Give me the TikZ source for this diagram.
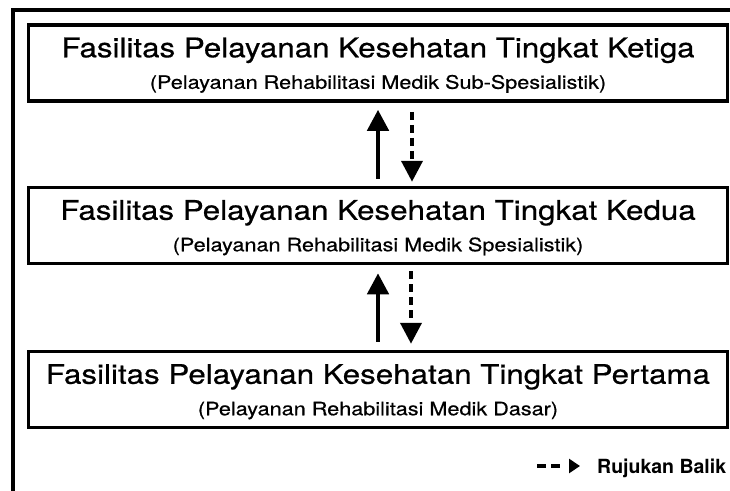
\documentclass[tikz,border=0pt]{standalone}
\usepackage{fontspec}
\setmainfont{TeX Gyre Heros}
\newfontfamily\medfont[FakeBold=0.5]{TeX Gyre Heros}
\usepackage{graphicx}
\usetikzlibrary{arrows.meta}
\newcommand{\widetitle}[1]{\scalebox{1.16}[1]{#1}}
\newcommand{\widesub}[1]{\scalebox{1.17}[1]{#1}}

\begin{document}
\begin{tikzpicture}[
		x=1pt,y=-1pt,
		level/.style = {draw, line width=3.5pt, minimum width=699pt, minimum height=76pt, inner sep=0pt},
		title/.style = {anchor=base, inner sep=0pt, font=\medfont\fontsize{27}{30}\selectfont},
		sub/.style = {anchor=base, inner sep=0pt, font=\medfont\fontsize{18.5}{21}\selectfont},
		up/.style = {line width=4.5pt, -{Triangle[length=21pt,width=21pt]}},
		back/.style = {line width=4pt, dash pattern=on 8pt off 5pt, -{Triangle[length=21pt,width=21pt]}},
		legend/.style = {line width=4pt, dash pattern=on 9pt off 5pt on 9pt off 20pt, -{Triangle[length=11pt,width=14pt]}}
	]
	\useasboundingbox (0,0) rectangle (730,490);
	\clip (0,0) rectangle (730,490);
	\draw [line width=3.5pt] (13,495) -- (13,10) -- (735,10);

	\node (tiga) [level] at (378,63) {};
	\node (dua) [level] at (378,225.5) {};
	\node (pertama) [level] at (378,389.5) {};

	\node (tigaT) [title] at ([yshift=-34pt]tiga.north) {\widetitle{Fasilitas Pelayanan Kesehatan Tingkat Ketiga}};
	\node (tigaS) [sub] at ([yshift=14pt]tiga.south) {\widesub{(Pelayanan Rehabilitasi Medik Sub-Spesialistik)}};
	\node (duaT) [title] at ([yshift=-34pt]dua.north) {\widetitle{Fasilitas Pelayanan Kesehatan Tingkat Kedua}};
	\node (duaS) [sub] at ([yshift=14pt]dua.south) {\widesub{(Pelayanan Rehabilitasi Medik Spesialistik)}};
	\node (pertamaT) [title] at ([yshift=-34pt]pertama.north) {\widetitle{Fasilitas Pelayanan Kesehatan Tingkat Pertama}};
	\node (pertamaS) [sub] at ([yshift=14pt]pertama.south) {\widesub{(Pelayanan Rehabilitasi Medik Dasar)}};

	\draw [up] ([yshift=7pt]dua.north) -- ([yshift=-7pt]tiga.south);
	\draw [back] ([xshift=34pt,yshift=-9pt]tiga.south) -- ([xshift=34pt,yshift=4pt]dua.north);
	\draw [up] ([yshift=8pt]pertama.north) -- ([yshift=-8pt]dua.south);
	\draw [back] ([xshift=33pt,yshift=-6pt]dua.south) -- ([xshift=33pt,yshift=6pt]pertama.north);

	% legenda
	\coordinate (lgS) at (537,466);
	\coordinate (lgE) at (580,466);
	\draw [legend] (lgS) -- (lgE);
	\node (balik) [anchor=base west, inner sep=0pt, font=\fontsize{19.5}{22}\selectfont\bfseries] at (597,473) {Rujukan Balik};
\end{tikzpicture}
\end{document}
